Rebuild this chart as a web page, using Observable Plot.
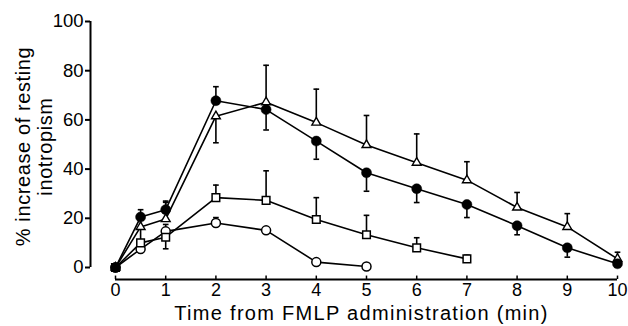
<!DOCTYPE html>
<html>
<head>
<meta charset="utf-8">
<script src="https://cdn.jsdelivr.net/npm/d3@7"></script>
<script src="https://cdn.jsdelivr.net/npm/@observablehq/plot@0.6"></script>
<style>
  html, body { margin: 0; padding: 0; background: #fff; }
  svg { display: block; }
</style>
</head>
<body>
<div id="chart"></div>
<script>
// Data
const timesFull = [0, 0.5, 1, 2, 3, 4, 5, 6, 7, 8, 9, 10];
const filledCircle = [0, 20.5, 23.5, 67.8, 64.2, 51.4, 38.5, 32, 25.6, 17, 8, 1.5];
const filledCircleErr = [null, 23.5, 27, 73.5, 55.9, 44, 31, 26.4, 20.3, 13.3, 4.2, null];
const triangle = [0, 16.5, 19.7, 61.5, 67.2, 58.9, 49.8, 42.6, 35.5, 24.4, 16.5, 3.5];
const triangleErr = [null, 21, 26.5, 50.7, 82.2, 72.5, 61.8, 54.3, 43, 30.5, 21.9, 6.2];
const timesSquare = [0, 0.5, 1, 2, 3, 4, 5, 6, 7];
const square = [0, 10, 12.3, 28.4, 27.3, 19.5, 13.3, 8, 3.5];
const squareErr = [null, 16, 7.6, 33.5, 39.3, 28.4, 21.2, 12.1, 5];
const timesOpen = [0, 0.5, 1, 2, 3, 4, 5];
const openCircle = [0, 7.5, 14.7, 18.1, 15.1, 2.2, 0.4];
const openCircleErr = [null, null, 17.5, 20.3, null, null, null];
const xTicks = [0, 1, 2, 3, 4, 5, 6, 7, 8, 9, 10];
const yTicks = [0, 20, 40, 60, 80, 100];
const xLabel = "Time from FMLP administration (min)";
const yLabel = "% increase of resting\ninotropism";

function rows(series, times, values, errs) {
  return times.map((t, i) => ({series, t, v: values[i], e: errs[i]}));
}
const data = [
  ...rows("filled", timesFull, filledCircle, filledCircleErr),
  ...rows("triangle", timesFull, triangle, triangleErr),
  ...rows("square", timesSquare, square, squareErr),
  ...rows("open", timesOpen, openCircle, openCircleErr)
];
const errData = data.filter(d => d.e != null);

const capSymbol = {
  draw(context, size) {
    const r = Math.sqrt(size) / 2;
    context.moveTo(-r, 0);
    context.lineTo(r, 0);
  }
};

const FONT = "Liberation Sans, Arial, Helvetica, sans-serif";
const YAX = -25; // y-axis offset from x=0
const XAX = 12;  // x-axis offset below y=0

const chart = Plot.plot({
  width: 628,
  height: 326,
  marginLeft: 115,
  marginRight: 11,
  marginTop: 21,
  marginBottom: 59,
  style: {fontFamily: FONT, fontSize: "18px", color: "black", background: "white"},
  x: {domain: [0, 10]},
  y: {domain: [0, 100]},
  marks: [
    // y axis
    Plot.ruleX([0], {dx: YAX, stroke: "black", strokeWidth: 2}),
    Plot.axisY(yTicks, {anchor: "left", dx: YAX, tickSize: 5, tickPadding: 2, tickFormat: d => d, fontSize: 18.5, strokeWidth: 2, label: null}),
    // x axis
    Plot.ruleY([0], {x1: 0, x2: 10, dy: XAX, stroke: "black", strokeWidth: 2}),
    Plot.ruleX(xTicks, {x: d => d, y1: 0, y2: 1.4, dy: XAX, stroke: "black", strokeWidth: 1.5}),
    Plot.axisX(xTicks, {anchor: "bottom", dy: XAX, tickSize: 0, tickPadding: 4, tickFormat: d => d, fontSize: 18, label: null}),
    Plot.text([xLabel], {frameAnchor: "bottom", dx: -5, dy: 46, fontSize: 20, lineAnchor: "middle"}),
    Plot.text([yLabel], {frameAnchor: "left", rotate: -90, textAnchor: "middle", lineAnchor: "middle", lineHeight: 1.1, dx: -82, dy: 2, fontSize: 20}),
    // error bars
    Plot.ruleX(errData, {x: "t", y1: "v", y2: "e", stroke: "black", strokeWidth: 1.6}),
    Plot.dot(errData, {x: "t", y: "e", symbol: capSymbol, r: 3.2, stroke: "black", strokeWidth: 1.6, fill: "none"}),
    // lines
    Plot.line(data, {x: "t", y: "v", z: "series", stroke: "black", strokeWidth: 1.6}),
    // markers
    Plot.dot(data.filter(d => d.series === "open"), {x: "t", y: "v", r: 4.5, symbol: "circle", fill: "white", stroke: "black", strokeWidth: 1.5}),
    Plot.dot(data.filter(d => d.series === "square"), {x: "t", y: "v", r: 4.3, symbol: "square", fill: "white", stroke: "black", strokeWidth: 1.5}),
    Plot.dot(data.filter(d => d.series === "triangle"), {x: "t", y: "v", r: 3.3, symbol: "triangle", fill: "white", stroke: "black", strokeWidth: 1.4}),
    Plot.dot(data.filter(d => d.series === "filled"), {x: "t", y: "v", r: 5, symbol: "circle", fill: "black", stroke: "black", strokeWidth: 0.5})
  ]
});
// letter spacing to match the reference's loose typesetting
d3.select(chart).selectAll("text").each(function() {
  const t = this.textContent;
  if (t === xLabel) this.setAttribute("letter-spacing", "1.3");
});
d3.select(chart).selectAll("text").filter(function() {
  return this.textContent === yLabel.replace("\n", "");
}).attr("letter-spacing", "0.6");
document.getElementById("chart").appendChild(chart);
</script>
</body>
</html>
